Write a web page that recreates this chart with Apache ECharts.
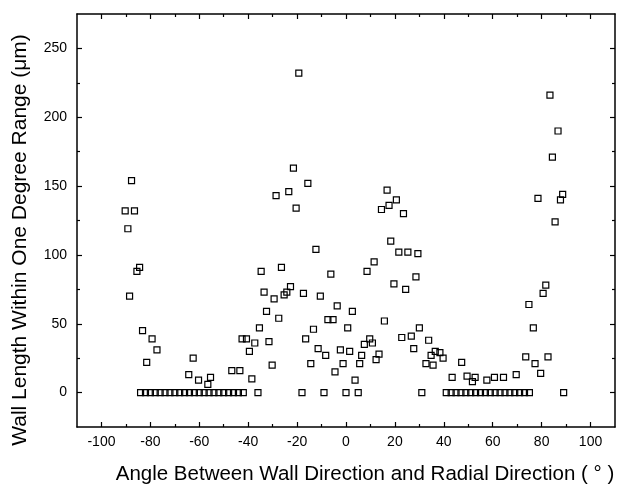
<!DOCTYPE html>
<html><head><meta charset="utf-8">
<script src="https://cdn.jsdelivr.net/npm/echarts@6/dist/echarts.min.js"></script>
<style>html,body{margin:0;padding:0;background:#fff}#c{width:618px;height:489px}</style>
</head><body><div id="c"></div>
<script>
const leftX = [-90.3,-89.2,-88.5,-87.7,-86.5,-85.5,-84.4,-83.2,-81.5,-79.3,-77.3,-64.3,-62.5,-60.3,-56.5,-55.4,-46.7,-43.4,-42.5,-40.7,-39.5,-38.5,-37.3,-35.4,-34.7,-33.5,-32.5,-31.5,-30.2];
const leftY = [132,119,70,154,132,88,91,45,22,39,31,13,25,9,6,11,16,16,39,39,30,10,36,47,88,73,59,37,20];
const midX = [-29.4,-28.6,-27.5,-26.4,-25.3,-24.2,-23.4,-22.7,-21.5,-20.4,-19.3,-17.4,-16.5,-15.6,-14.4,-13.3,-12.3,-11.4,-10.5,-8.3,-7.4,-6.2,-5.3,-4.5,-3.6,-2.3,-1.2,0.7,1.5,2.6,3.7,5.6,6.4,7.5,8.6,9.7,10.8,11.5,12.3,13.5,14.5,15.7,16.8,17.6,18.3,19.6,20.6,21.6,22.8,23.5,24.4,25.3,26.7,27.7,28.6,29.4,30.0,32.7,33.8,34.8,35.6,36.5,38.4,39.7];
const midY = [68,143,54,91,71,73,146,77,163,134,232,72,39,152,21,46,104,32,70,27,53,86,53,15,63,31,21,47,30,59,9,21,27,35,88,39,36,95,24,28,133,52,147,136,110,79,140,102,40,130,75,102,41,32,84,101,47,21,38,27,20,30,29,25];
const rightX = [43.4,47.3,49.5,51.7,52.8,57.6,60.7,64.4,69.6,73.5,74.8,76.6,77.3,78.5,79.6,80.6,81.7,82.6,83.4,84.4,85.5,86.7,87.7,88.6];
const rightY = [11,22,12,8,11,9,11,11,13,26,64,47,21,141,14,72,78,26,216,171,124,190,140,144];
const zeroX = [-84,-82,-80,-78,-76,-74,-72,-70,-68,-66,-64,-62,-60,-58,-56,-54,-52,-50,-48,-46,-44,-42,-36,-18,-9,0,5,31,41,43,45,47,49,51,53,55,57,59,61,63,65,67,69,71,73,75,89];
const xMajorTicks = [-100,-80,-60,-40,-20,0,20,40,60,80,100];
const xMinorTicks = [-90,-70,-50,-30,-10,10,30,50,70,90];
const yMajorTicks = [0,50,100,150,200,250];
const yMinorTicks = [25,75,125,175,225];
const xTitle = 'Angle Between Wall Direction and Radial Direction ( \u00B0 )';
const yTitle = 'Wall Length Within One Degree Range (\u03BCm)';

const FONT = "'Liberation Sans', Arial, sans-serif";
const pts = [];
leftX.forEach((x,i)=>pts.push([x,leftY[i]]));
midX.forEach((x,i)=>pts.push([x,midY[i]]));
rightX.forEach((x,i)=>pts.push([x,rightY[i]]));
zeroX.forEach(x=>pts.push([x,0]));

function xa(pos, ticks, len, showLine, labels){
  return {type:'value', position:pos, min:-110, max:110,
    axisLine:{show:showLine, onZero:false, lineStyle:{color:'#000', width:1.5}},
    axisTick:{show:true, inside:true, length:len, customValues:ticks, lineStyle:{color:'#000', width:1.2}},
    axisLabel:{show:!!labels, customValues:ticks, color:'#000', fontSize:14, fontFamily:FONT, margin:8},
    splitLine:{show:false}};
}
function ya(pos, ticks, len, showLine, labels){
  return {type:'value', position:pos, min:-25, max:275,
    axisLine:{show:showLine, onZero:false, lineStyle:{color:'#000', width:1.5}},
    axisTick:{show:true, inside:true, length:len, customValues:ticks, lineStyle:{color:'#000', width:1.2}},
    axisLabel:{show:!!labels, customValues:ticks, color:'#000', fontSize:14, fontFamily:FONT, margin:10},
    splitLine:{show:false}};
}

const chart = echarts.init(document.getElementById('c'), null, {renderer:'canvas'});
chart.setOption({
  animation:false,
  backgroundColor:'#fff',
  grid:{left:77, right:3, top:14, bottom:62, containLabel:false},
  xAxis:[xa('bottom', xMajorTicks, 5, true, true), xa('bottom', xMinorTicks, 3, false, false),
         xa('top', xMajorTicks, 5, true, false), xa('top', xMinorTicks, 3, false, false)],
  yAxis:[ya('left', yMajorTicks, 5, true, true), ya('left', yMinorTicks, 3, false, false),
         ya('right', yMajorTicks, 5, true, false), ya('right', yMinorTicks, 3, false, false)],
  graphic:[
    {type:'text', x:365, y:474, style:{text:xTitle, fontSize:20.5, fontFamily:FONT, fill:'#000', align:'center', verticalAlign:'middle'}},
    {type:'text', x:20, y:240, rotation:Math.PI/2, style:{text:yTitle, fontSize:21, fontFamily:FONT, fill:'#000', align:'center', verticalAlign:'middle'}}
  ],
  series:[{type:'scatter', xAxisIndex:0, yAxisIndex:0, data:pts, symbol:'rect', symbolSize:6,
    itemStyle:{color:'rgba(0,0,0,0)', borderColor:'#000', borderWidth:1.2, opacity:1},
    emphasis:{disabled:true}, silent:true}]
});
</script></body></html>
